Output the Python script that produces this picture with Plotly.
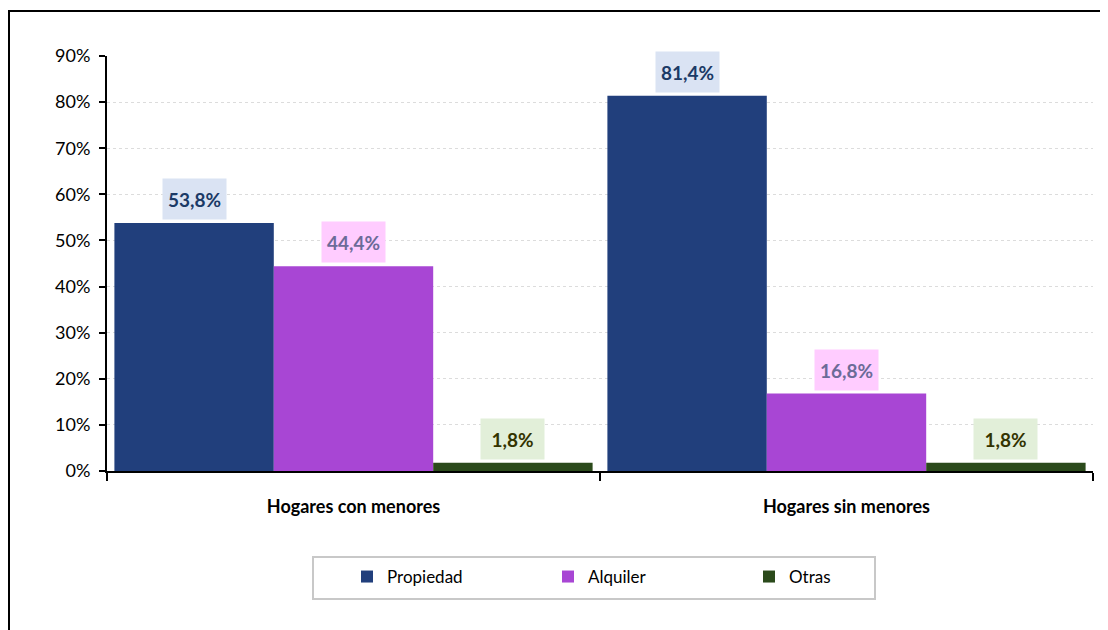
import plotly.graph_objects as go

# data
categories = ["Hogares con menores", "Hogares sin menores"]
series_names = ["Propiedad", "Alquiler", "Otras"]
propiedad = [0.538, 0.814]
alquiler = [0.444, 0.168]
otras = [0.018, 0.018]
y_ticks = [0, 0.1, 0.2, 0.3, 0.4, 0.5, 0.6, 0.7, 0.8, 0.9]

values = [propiedad, alquiler, otras]
bar_colors = ["#213f7c", "#a846d4", "#2b4a1b"]
label_bg = ["#dae3f3", "#ffccff", "#e2efd9"]
label_fg = ["#1b3a66", "#6b6b98", "#333300"]

# page body has an 8px margin, so the figure is a bit smaller than the window
W, H = 1100, 622
m_l, m_r, m_t, m_b = 99, 15, 48, 159
plot_w = W - m_l - m_r
plot_h = H - m_t - m_b
bargap = 0.03
bar_px = plot_w / len(categories) * (1 - bargap) / len(series_names)

fig = go.Figure()
for name, vals, col in zip(series_names, values, bar_colors):
    fig.add_trace(go.Bar(x=categories, y=vals, name=name,
                         marker=dict(color=col, line=dict(width=0))))

# value labels with coloured boxes
for i, vals in enumerate(values):
    for cat, v in zip(categories, vals):
        fig.add_annotation(
            x=cat, y=v, text="<b>" + f"{v*100:.1f}".replace(".", ",") + "%</b>",
            showarrow=False, xshift=(i - 1) * bar_px, yshift=3,
            yanchor="bottom", width=61, height=38,
            bgcolor=label_bg[i], font=dict(size=19, color=label_fg[i]))

# outer chart border
fig.add_shape(type="rect", xref="paper", yref="paper",
              x0=(1 - m_l) / plot_w, x1=1.1, y0=-0.6, y1=1 + 45 / plot_h,
              line=dict(color="black", width=2), fillcolor="rgba(0,0,0,0)", layer="below")

# legend frame (wider than plotly's own legend box)
fig.add_shape(type="rect", xref="paper", yref="paper",
              x0=206 / plot_w, x1=768 / plot_w, y0=-128 / plot_h, y1=-86 / plot_h,
              line=dict(color="#c8c8c8", width=2), fillcolor="rgba(0,0,0,0)")

fig.update_layout(
    width=W, height=H,
    margin=dict(l=m_l, r=m_r, t=m_t, b=m_b),
    barmode="group", bargap=bargap, bargroupgap=0,
    plot_bgcolor="white", paper_bgcolor="white",
    font=dict(family="Lato, Carlito, Calibri, sans-serif", size=15, color="black"),
    showlegend=True,
    legend=dict(orientation="h", x=240 / plot_w, xanchor="left", y=-0.212, yanchor="top",
                borderwidth=0, bgcolor="rgba(0,0,0,0)", font=dict(size=17),
                entrywidth=156, entrywidthmode="pixels", traceorder="normal",
                itemclick=False),
    xaxis=dict(showline=True, linecolor="black", linewidth=2, ticks="outside",
               tickson="boundaries", ticklen=8, tickwidth=2, tickcolor="black",
               ticklabelstandoff=18, tickfont=dict(size=18, color="black", weight="bold")),
    yaxis=dict(range=[0, 0.9], tickvals=y_ticks, tickformat=".0%",
               showline=True, linecolor="black", linewidth=2, ticks="outside",
               ticklen=6, tickwidth=2, tickcolor="black", ticklabelstandoff=5,
               showgrid=True, gridcolor="#dcdcdc", griddash="dot", gridwidth=1,
               zeroline=False, tickfont=dict(size=18, color="black")),
)

fig.write_html("out.html")
